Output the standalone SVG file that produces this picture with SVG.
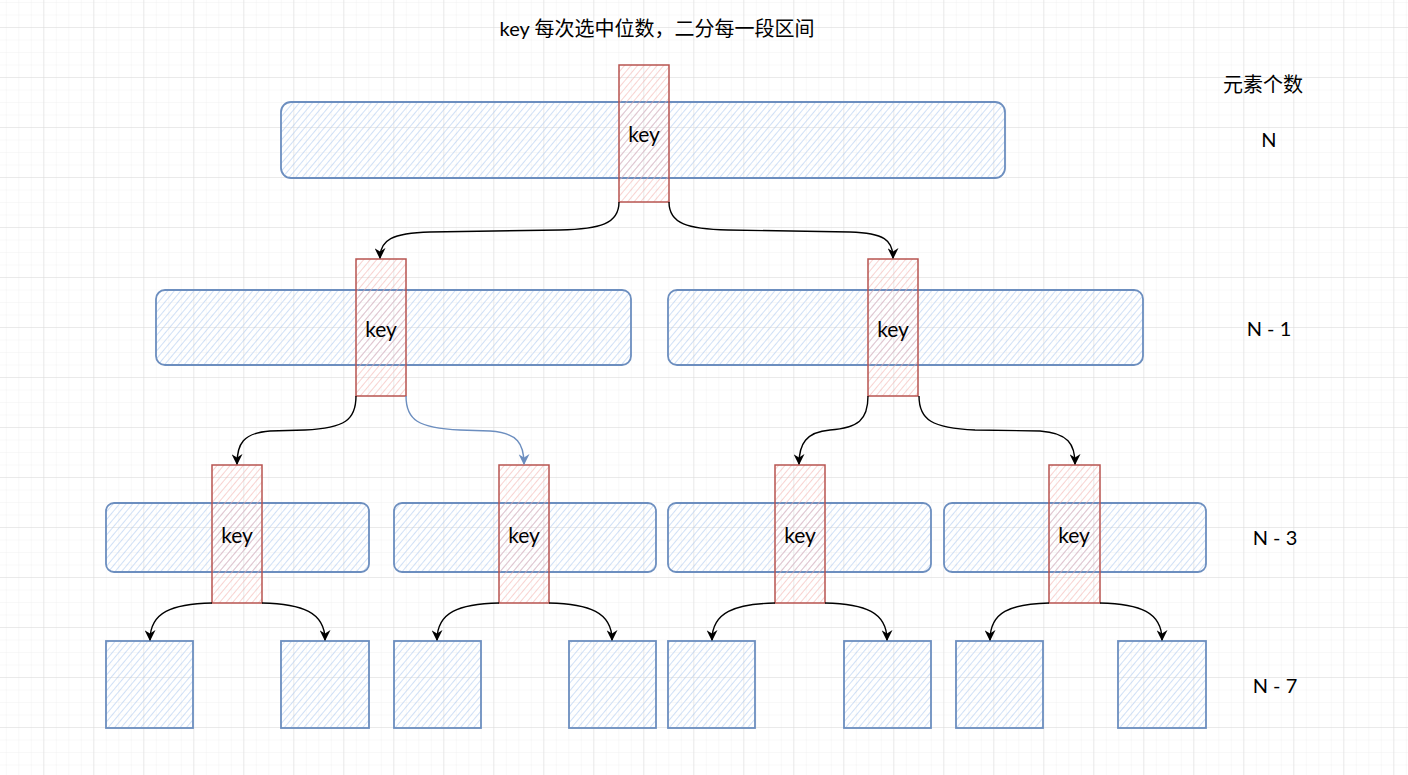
<svg xmlns="http://www.w3.org/2000/svg" width="1408" height="775" viewBox="0 0 1408 775">
<defs>
<pattern id="minor" x="5.8" y="2" width="12.5" height="12.5" patternUnits="userSpaceOnUse">
<path d="M0,0 H12.5 M0,0 V12.5" fill="none" stroke="#f1f1f1" stroke-width="1"/>
</pattern>
<pattern id="major" x="43.3" y="27" width="50" height="50" patternUnits="userSpaceOnUse">
<path d="M0,0 H50 M0,0 V50" fill="none" stroke="#dcdcdc" stroke-width="1"/>
</pattern>
<pattern id="hb" width="5" height="5" patternUnits="userSpaceOnUse" patternTransform="rotate(40)">
<line x1="0" y1="0" x2="0" y2="5" stroke="#a9c6ee" stroke-width="1.1"/>
</pattern>
<pattern id="hr" width="5" height="5" patternUnits="userSpaceOnUse" patternTransform="rotate(40)">
<line x1="0" y1="0" x2="0" y2="5" stroke="#f2aeaa" stroke-width="1.1"/>
</pattern>
<marker id="ak" viewBox="0 0 10 10" refX="9" refY="5" markerWidth="11" markerHeight="11" orient="auto" markerUnits="userSpaceOnUse">
<path d="M0,0 L10,5 L0,10 L3,5 Z" fill="#000"/>
</marker>
<marker id="ab" viewBox="0 0 10 10" refX="9" refY="5" markerWidth="11" markerHeight="11" orient="auto" markerUnits="userSpaceOnUse">
<path d="M0,0 L10,5 L0,10 L3,5 Z" fill="#6c8ebf"/>
</marker>
<style>
.blk{fill:url(#hb);stroke:#6c8ebf;stroke-width:1.8}
.key{fill:url(#hr);stroke:#b85450;stroke-width:1.5}
.kt{font-family:"Lato","Noto Sans",sans-serif;font-size:21px;fill:#000;text-anchor:middle}
.lb{font-family:"Lato","Noto Sans","Noto Sans CJK SC",sans-serif;font-size:20px;fill:#000;text-anchor:middle}
.e{fill:none;stroke:#000;stroke-width:1.4;marker-end:url(#ak)}
.eb{fill:none;stroke:#6c8ebf;stroke-width:1.4;marker-end:url(#ab)}
</style>
</defs>
<rect width="1408" height="775" fill="#fff"/>
<rect width="1408" height="775" fill="url(#minor)"/>
<rect width="1408" height="775" fill="url(#major)"/>

<text class="lb" x="657" y="36">key 每次选中位数，二分每一段区间</text>
<text class="lb" x="1263" y="92">元素个数</text>
<text class="lb" x="1269" y="147">N</text>
<text class="lb" x="1269" y="336">N - 1</text>
<text class="lb" x="1275" y="545">N - 3</text>
<text class="lb" x="1275" y="693">N - 7</text>

<g id="level1">
<g id="r0"><rect class="blk" x="281" y="102" width="724" height="76" rx="10"/></g>
<g id="k0"><rect class="key" x="619" y="65" width="50" height="137"/><text class="kt" x="644" y="142">key</text></g>
</g>

<g id="level2">
<g id="r1"><rect class="blk" x="156" y="290" width="475" height="75" rx="9"/></g>
<g id="r2"><rect class="blk" x="668" y="290" width="475" height="75" rx="9"/></g>
<g id="k1"><rect class="key" x="356" y="259" width="50" height="137"/><text class="kt" x="381" y="337">key</text></g>
<g id="k2"><rect class="key" x="868" y="259" width="50" height="137"/><text class="kt" x="893" y="337">key</text></g>
</g>

<g id="level3">
<g id="r3"><rect class="blk" x="106" y="503" width="263" height="69" rx="8"/></g>
<g id="r4"><rect class="blk" x="394" y="503" width="262" height="69" rx="8"/></g>
<g id="r5"><rect class="blk" x="668" y="503" width="263" height="69" rx="8"/></g>
<g id="r6"><rect class="blk" x="944" y="503" width="262" height="69" rx="8"/></g>
<g id="k3"><rect class="key" x="212" y="465" width="50" height="138"/><text class="kt" x="237" y="543">key</text></g>
<g id="k4"><rect class="key" x="499" y="465" width="50" height="138"/><text class="kt" x="524" y="543">key</text></g>
<g id="k5"><rect class="key" x="775" y="465" width="50" height="138"/><text class="kt" x="800" y="543">key</text></g>
<g id="k6"><rect class="key" x="1049" y="465" width="51" height="138"/><text class="kt" x="1074" y="543">key</text></g>
</g>

<g id="level4">
<g id="s1"><rect class="blk" x="106" y="641" width="87" height="87"/></g>
<g id="s2"><rect class="blk" x="281" y="641" width="88" height="87"/></g>
<g id="s3"><rect class="blk" x="394" y="641" width="87" height="87"/></g>
<g id="s4"><rect class="blk" x="569" y="641" width="87" height="87"/></g>
<g id="s5"><rect class="blk" x="668" y="641" width="87" height="87"/></g>
<g id="s6"><rect class="blk" x="844" y="641" width="87" height="87"/></g>
<g id="s7"><rect class="blk" x="956" y="641" width="87" height="87"/></g>
<g id="s8"><rect class="blk" x="1118" y="641" width="88" height="87"/></g>
</g>

<g id="connectors">
<path class="e" d="M619,202 C619,224 600,229 560,230 L430,232 C392,233 380,240 380,258"/>
<path class="e" d="M669,202 C669,224 688,229 728,230 L850,232 C884,233 893,240 893,258"/>
<path class="e" d="M356,396 C356,420 345,428 305,430 L270,431 C243,433 237,444 237,464"/>
<path class="eb" d="M406,396 C406,420 418,428 460,430 L490,431 C518,433 524,444 524,464"/>
<path class="e" d="M868,396 C868,420 858,428 830,430 C806,432 799,444 799,464"/>
<path class="e" d="M919,396 C919,420 932,428 975,430 L1040,431 C1068,433 1075,444 1075,464"/>
<path class="e" d="M212,603 C172,604 150,612 150,640"/>
<path class="e" d="M262,603 C302,604 325,612 325,640"/>
<path class="e" d="M499,603 C459,604 437,612 437,640"/>
<path class="e" d="M549,603 C589,604 612,612 612,640"/>
<path class="e" d="M775,603 C735,604 712,612 712,640"/>
<path class="e" d="M825,603 C865,604 887,612 887,640"/>
<path class="e" d="M1049,603 C1010,604 990,612 990,640"/>
<path class="e" d="M1100,603 C1140,604 1162,612 1162,640"/>
</g>
</svg>
